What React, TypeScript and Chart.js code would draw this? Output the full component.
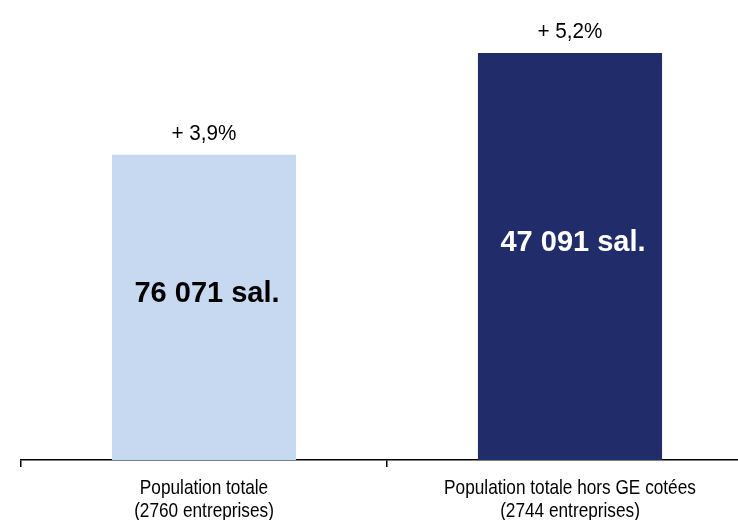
import React, { useEffect, useRef } from "react";
import { Chart, registerables } from "chart.js";

Chart.register(...registerables);

const categories: string[][] = [
  ["Population totale", "(2760 entreprises)"],
  ["Population totale hors GE cotées", "(2744 entreprises)"],
];
const growthValues: number[] = [3.9, 5.2];
const growthLabels: string[] = ["+ 3,9%", "+ 5,2%"];
const employeeLabels: string[] = ["76 071 sal.", "47 091 sal."];
const barColors: string[] = ["#C6D9F0", "#212D6B"];
const innerTextColors: string[] = ["#000000", "#FFFFFF"];

const FONT = "'Liberation Sans', Arial, sans-serif";

function drawCondensed(ctx: any, text: string, x: number, y: number, sx: number) {
  ctx.save();
  ctx.translate(x, y);
  ctx.scale(sx, 1);
  ctx.fillText(text, 0, 0);
  ctx.restore();
}

const labelPlugin = {
  id: "barLabels",
  afterDatasetsDraw(chart: any) {
    const ctx = chart.ctx;
    const meta = chart.getDatasetMeta(0);
    const xScale = chart.scales.x;
    const bottom = chart.chartArea.bottom;
    ctx.save();
    ctx.textAlign = "center";
    ctx.textBaseline = "alphabetic";
    meta.data.forEach((bar: any, i: number) => {
      const { x, y, base } = bar.getProps(["x", "y", "base"], true);
      ctx.fillStyle = "#000000";
      ctx.font = `22px ${FONT}`;
      drawCondensed(ctx, growthLabels[i], x, y - 15, 0.94);
      ctx.fillStyle = innerTextColors[i];
      ctx.font = `bold 29px ${FONT}`;
      ctx.fillText(employeeLabels[i], x + 3, (y + base) / 2 - 5);
    });
    ctx.fillStyle = "#000000";
    ctx.font = `21px ${FONT}`;
    categories.forEach((lines, i) => {
      const cx = xScale.getPixelForValue(i);
      lines.forEach((line, j) => {
        drawCondensed(ctx, line, cx, bottom + 34 + j * 22.5, 0.82);
      });
    });
    ctx.restore();
  },
};

export default function App() {
  const ref = useRef<HTMLCanvasElement>(null);
  useEffect(() => {
    if (!ref.current) return;
    const chart = new Chart(ref.current, {
      type: "bar",
      data: {
        labels: categories.map((c) => c.join(" ")),
        datasets: [
          {
            data: growthValues,
            backgroundColor: barColors,
            borderWidth: 0,
            categoryPercentage: 1,
            barPercentage: 0.503,
          },
        ],
      },
      options: {
        responsive: false,
        animation: false,
        devicePixelRatio: 1,
        layout: { padding: { left: 21, right: 27, top: 6, bottom: 53 } },
        plugins: { legend: { display: false }, tooltip: { enabled: false } },
        scales: {
          x: {
            offset: true,
            grid: {
              offset: true,
              display: true,
              drawOnChartArea: false,
              drawTicks: true,
              tickLength: 7,
              color: "#000000",
              lineWidth: 1.5,
            },
            border: { display: true, color: "#000000", width: 1.5 },
            ticks: { display: false },
          },
          y: {
            display: false,
            min: 0,
            max: 5.8,
          },
        },
      },
      plugins: [labelPlugin],
    });
    return () => chart.destroy();
  }, []);
  return (
    <div
      style={{
        position: "fixed",
        left: 0,
        top: 0,
        width: 738,
        height: 520,
        overflow: "hidden",
        background: "#fff",
      }}
    >
      <canvas ref={ref} width={780} height={520} style={{ display: "block", width: 780, height: 520 }} />
    </div>
  );
}
